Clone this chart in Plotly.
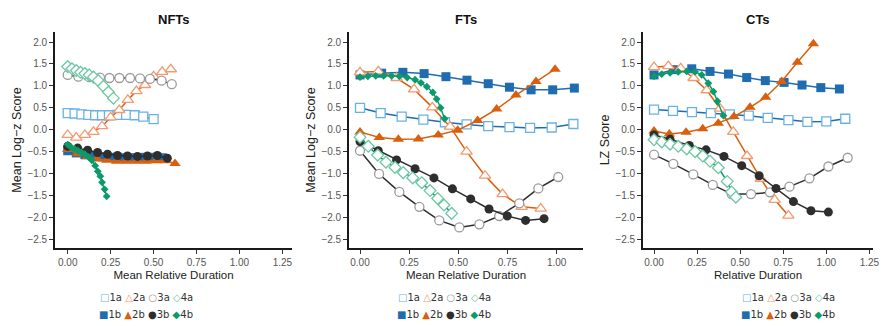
import plotly.graph_objects as go

# ---------------- data: NFTs ----------------
NFT_1A_X = [0, 0.04, 0.08, 0.12, 0.16, 0.2, 0.24, 0.29, 0.34, 0.39, 0.44, 0.5]
NFT_1A_Y = [0.38, 0.37, 0.35, 0.34, 0.33, 0.33, 0.33, 0.34, 0.34, 0.33, 0.3, 0.24]
NFT_1B_X = [0, 0.05, 0.1, 0.15, 0.2, 0.25, 0.3, 0.35, 0.4, 0.45, 0.5, 0.55]
NFT_1B_Y = [-0.48, -0.53, -0.57, -0.6, -0.62, -0.63, -0.64, -0.64, -0.64, -0.63, -0.63, -0.64]
NFT_2A_X = [0, 0.05, 0.1, 0.15, 0.2, 0.25, 0.3, 0.35, 0.4, 0.45, 0.5, 0.55, 0.6]
NFT_2A_Y = [-0.12, -0.18, -0.12, -0.05, 0.08, 0.28, 0.45, 0.68, 0.88, 1.02, 1.22, 1.32, 1.38]
NFT_2B_X = [0, 0.057, 0.114, 0.171, 0.228, 0.285, 0.342, 0.399, 0.456, 0.513, 0.57, 0.625]
NFT_2B_Y = [-0.45, -0.55, -0.62, -0.67, -0.7, -0.72, -0.72, -0.72, -0.72, -0.71, -0.71, -0.77]
NFT_3A_X = [0, 0.062, 0.126, 0.188, 0.243, 0.301, 0.363, 0.421, 0.479, 0.547, 0.606]
NFT_3A_Y = [1.25, 1.21, 1.2, 1.19, 1.18, 1.18, 1.18, 1.17, 1.16, 1.12, 1.04]
NFT_3B_X = [0, 0.058, 0.116, 0.174, 0.232, 0.29, 0.348, 0.406, 0.464, 0.522, 0.58]
NFT_3B_Y = [-0.38, -0.42, -0.47, -0.52, -0.56, -0.59, -0.6, -0.61, -0.6, -0.59, -0.65]
NFT_4A_X = [0, 0.025, 0.05, 0.075, 0.1, 0.125, 0.15, 0.178, 0.208, 0.237, 0.266]
NFT_4A_Y = [1.44, 1.39, 1.35, 1.31, 1.28, 1.25, 1.2, 1.12, 0.99, 0.86, 0.72]
NFT_4B_X = [0, 0.02, 0.04, 0.06, 0.08, 0.1, 0.12, 0.14, 0.16, 0.175, 0.19, 0.2, 0.215, 0.227]
NFT_4B_Y = [-0.34, -0.4, -0.44, -0.48, -0.52, -0.56, -0.62, -0.7, -0.82, -0.95, -1.06, -1.2, -1.36, -1.52]

# ---------------- data: FTs ----------------
FT_1A_X = [0, 0.105, 0.212, 0.322, 0.432, 0.542, 0.652, 0.76, 0.865, 0.975, 1.085]
FT_1A_Y = [0.5, 0.38, 0.3, 0.23, 0.17, 0.12, 0.08, 0.06, 0.04, 0.05, 0.13]
FT_1B_X = [0, 0.11, 0.218, 0.326, 0.437, 0.544, 0.652, 0.76, 0.87, 0.98, 1.09]
FT_1B_Y = [1.25, 1.29, 1.31, 1.28, 1.21, 1.13, 1.05, 0.97, 0.91, 0.91, 0.95]
FT_2A_X = [0, 0.093, 0.186, 0.275, 0.368, 0.458, 0.542, 0.636, 0.725, 0.822, 0.919]
FT_2A_Y = [1.31, 1.33, 1.18, 0.92, 0.51, 0.07, -0.5, -1.05, -1.47, -1.76, -1.8]
FT_2B_X = [0, 0.098, 0.195, 0.297, 0.398, 0.497, 0.598, 0.695, 0.793, 0.895, 0.992]
FT_2B_Y = [-0.05, -0.18, -0.22, -0.21, -0.12, -0.01, 0.21, 0.47, 0.79, 1.1, 1.38]
FT_3A_X = [0, 0.097, 0.2, 0.302, 0.403, 0.505, 0.607, 0.708, 0.81, 0.907, 1.008]
FT_3A_Y = [-0.48, -1.01, -1.42, -1.76, -2.07, -2.23, -2.16, -1.97, -1.68, -1.34, -1.08]
FT_3B_X = [0, 0.093, 0.186, 0.28, 0.376, 0.47, 0.563, 0.656, 0.749, 0.842, 0.936]
FT_3B_Y = [-0.27, -0.48, -0.69, -0.89, -1.1, -1.35, -1.58, -1.81, -1.97, -2.07, -2.03]
FT_4A_X = [0, 0.042, 0.09, 0.132, 0.178, 0.22, 0.268, 0.314, 0.356, 0.395, 0.427, 0.466]
FT_4A_Y = [-0.17, -0.38, -0.58, -0.74, -0.86, -0.98, -1.1, -1.21, -1.39, -1.57, -1.72, -1.91]
FT_4B_X = [0, 0.04, 0.08, 0.12, 0.16, 0.2, 0.24, 0.28, 0.31, 0.34, 0.37, 0.39, 0.41, 0.43]
FT_4B_Y = [1.2, 1.22, 1.23, 1.23, 1.23, 1.22, 1.19, 1.14, 1.07, 0.98, 0.85, 0.7, 0.5, 0.25]

# ---------------- data: CTs ----------------
CT_1A_X = [0, 0.11, 0.22, 0.33, 0.44, 0.55, 0.66, 0.78, 0.89, 1.0, 1.11]
CT_1A_Y = [0.46, 0.43, 0.4, 0.38, 0.35, 0.32, 0.27, 0.22, 0.18, 0.19, 0.25]
CT_1B_X = [0, 0.112, 0.219, 0.325, 0.432, 0.538, 0.646, 0.755, 0.859, 0.968, 1.076]
CT_1B_Y = [1.25, 1.37, 1.39, 1.33, 1.27, 1.19, 1.12, 1.08, 1.02, 0.96, 0.93]
CT_2A_X = [0, 0.083, 0.155, 0.23, 0.306, 0.383, 0.46, 0.54, 0.62, 0.7, 0.78]
CT_2A_Y = [1.43, 1.45, 1.4, 1.18, 0.9, 0.48, -0.05, -0.6, -1.12, -1.6, -1.96]
CT_2B_X = [0, 0.089, 0.186, 0.283, 0.373, 0.464, 0.557, 0.648, 0.741, 0.832, 0.925]
CT_2B_Y = [-0.03, -0.1, -0.06, 0.02, 0.15, 0.3, 0.51, 0.74, 1.1, 1.54, 1.96]
CT_3A_X = [0, 0.112, 0.228, 0.341, 0.451, 0.563, 0.673, 0.786, 0.902, 1.012, 1.124]
CT_3A_Y = [-0.57, -0.78, -1.02, -1.26, -1.47, -1.47, -1.43, -1.3, -1.11, -0.84, -0.64]
CT_3B_X = [0, 0.093, 0.205, 0.302, 0.406, 0.509, 0.61, 0.708, 0.809, 0.911, 1.012]
CT_3B_Y = [-0.12, -0.22, -0.36, -0.46, -0.61, -0.82, -1.05, -1.34, -1.64, -1.85, -1.88]
CT_4A_X = [0, 0.045, 0.093, 0.141, 0.19, 0.238, 0.283, 0.325, 0.373, 0.425, 0.45, 0.475]
CT_4A_Y = [-0.23, -0.28, -0.33, -0.38, -0.44, -0.5, -0.6, -0.72, -0.87, -1.18, -1.42, -1.54]
CT_4B_X = [0, 0.045, 0.093, 0.141, 0.19, 0.238, 0.277, 0.315, 0.345, 0.368, 0.403]
CT_4B_Y = [1.22, 1.27, 1.3, 1.32, 1.33, 1.32, 1.25, 1.06, 0.87, 0.65, 0.32]

PANEL_TITLES = ["NFTs", "FTs", "CTs"]
X_TITLES = ["Mean Relative Duration", "Mean Relative Duration", "Relative Duration"]
Y_TITLES = ["Mean Log\u2212z Score", "Mean Log\u2212z Score", "LZ Score"]
X_TICKS = [0, 0.25, 0.5, 0.75, 1.0, 1.25]
Y_TICKS = [2.0, 1.5, 1.0, 0.5, 0.0, -0.5, -1.0, -1.5, -2.0, -2.5]
SERIES_NAMES = ["1a", "1b", "2a", "2b", "3a", "3b", "4a", "4b"]

# ---------------- styles ----------------
W, H = 881, 326
LINE = {"1": "#1f6cb0", "2": "#d95f0e", "3": "#2e2e2e", "4": "#0b9a6a"}
OPEN = {"1": "#6ab2e2", "2": "#f29a70", "3": "#9b9b9b", "4": "#6cc7a3"}
SYM = {"1": "square", "2": "triangle-up", "3": "circle", "4": "diamond"}
GLYPH_A = {"1": "\u25a1", "2": "\u25b3", "3": "\u25cb", "4": "\u25c7"}
GLYPH_B = {"1": "\u25a0", "2": "\u25b2", "3": "\u25cf", "4": "\u25c6"}

PANEL_PX = [(55, 292), (349, 583), (643, 873)]
X_RANGES = [[-0.074, 1.306], [-0.056, 1.134], [-0.064, 1.271]]
Y_RANGE = [-2.7, 2.23]
TOP_PX, BOT_PX = 32, 248

panels = [
    [(NFT_1A_X, NFT_1A_Y), (NFT_1B_X, NFT_1B_Y), (NFT_2A_X, NFT_2A_Y), (NFT_2B_X, NFT_2B_Y),
     (NFT_3A_X, NFT_3A_Y), (NFT_3B_X, NFT_3B_Y), (NFT_4A_X, NFT_4A_Y), (NFT_4B_X, NFT_4B_Y)],
    [(FT_1A_X, FT_1A_Y), (FT_1B_X, FT_1B_Y), (FT_2A_X, FT_2A_Y), (FT_2B_X, FT_2B_Y),
     (FT_3A_X, FT_3A_Y), (FT_3B_X, FT_3B_Y), (FT_4A_X, FT_4A_Y), (FT_4B_X, FT_4B_Y)],
    [(CT_1A_X, CT_1A_Y), (CT_1B_X, CT_1B_Y), (CT_2A_X, CT_2A_Y), (CT_2B_X, CT_2B_Y),
     (CT_3A_X, CT_3A_Y), (CT_3B_X, CT_3B_Y), (CT_4A_X, CT_4A_Y), (CT_4B_X, CT_4B_Y)],
]

fig = go.Figure()
for p, series in enumerate(panels):
    xa = "x" if p == 0 else f"x{p+1}"
    ya = "y" if p == 0 else f"y{p+1}"
    for name, (xs, ys) in zip(SERIES_NAMES, series):
        g, kind = name[0], name[1]
        if kind == "a":
            marker = dict(symbol=SYM[g], size=9 if g != "2" else 10, color="white",
                          line=dict(color=OPEN[g], width=1.3))
        else:
            sz = 6 if g == "4" else (10 if g == "2" else 9)
            marker = dict(symbol=SYM[g], size=sz, color=LINE[g], line=dict(width=0))
        fig.add_trace(go.Scatter(
            x=xs, y=ys, name=name, mode="lines+markers", xaxis=xa, yaxis=ya,
            line=dict(color=LINE[g], width=1.5), marker=marker, showlegend=False))

layout = dict(
    width=W, height=H, margin=dict(l=0, r=0, t=0, b=0),
    paper_bgcolor="white", plot_bgcolor="white",
    font=dict(family="Liberation Sans, Arial, sans-serif", color="#222"),
    showlegend=False,
)
ydom = [(H - BOT_PX) / H, (H - TOP_PX) / H]
for p in range(3):
    sfx = "" if p == 0 else str(p + 1)
    x0, x1 = PANEL_PX[p]
    xt = [t for t in X_TICKS if t <= X_RANGES[p][1]]
    layout["xaxis" + sfx] = dict(
        domain=[x0 / W, x1 / W], range=X_RANGES[p], anchor="y" + sfx,
        tickvals=xt, tickformat=".2f", showgrid=False, zeroline=False,
        showline=True, linecolor="#1a1a1a", linewidth=1.6,
        ticks="outside", ticklen=4, tickwidth=1, tickcolor="#333",
        tickfont=dict(size=10, color="#555"),
        title=dict(text=X_TITLES[p], font=dict(size=11.5, color="#222"), standoff=4),
        automargin=False, fixedrange=True,
    )
    layout["yaxis" + sfx] = dict(
        domain=ydom, range=Y_RANGE, anchor="x" + sfx,
        tickvals=Y_TICKS, tickformat=".1f", showgrid=False, zeroline=False,
        showline=True, linecolor="#1a1a1a", linewidth=1.6,
        ticks="outside", ticklen=4, tickwidth=1, tickcolor="#333",
        tickfont=dict(size=10, color="#555"),
        title=dict(text=Y_TITLES[p], font=dict(size=12.5, color="#222"), standoff=3),
        automargin=False, fixedrange=True,
    )
fig.update_layout(**layout)

annotations = []
for p in range(3):
    x0, x1 = PANEL_PX[p]
    annotations.append(dict(
        text="<b>" + PANEL_TITLES[p] + "</b>", xref="paper", yref="paper",
        x=(x0 + x1) / 2 / W, y=(H - 19) / H, showarrow=False,
        font=dict(size=13, color="#111"), xanchor="center", yanchor="middle"))

LEGEND_CX = [146, 444, 788]
for p in range(3):
    for r, (kind, glyphs) in enumerate([("a", GLYPH_A), ("b", GLYPH_B)]):
        parts = []
        for g in "1234":
            col = OPEN[g] if kind == "a" else LINE[g]
            parts.append(f"<span style='color:{col}'>{glyphs[g]}</span>"
                         f"<span style='color:#333'>{g}{kind}</span>")
        annotations.append(dict(
            text=" ".join(parts), xref="paper", yref="paper",
            x=LEGEND_CX[p] / W, y=(H - (297 + 17 * r)) / H, showarrow=False,
            font=dict(size=10, family="DejaVu Sans, sans-serif"),
            xanchor="center", yanchor="middle"))
fig.update_layout(annotations=annotations)

fig.write_html("out.html")
